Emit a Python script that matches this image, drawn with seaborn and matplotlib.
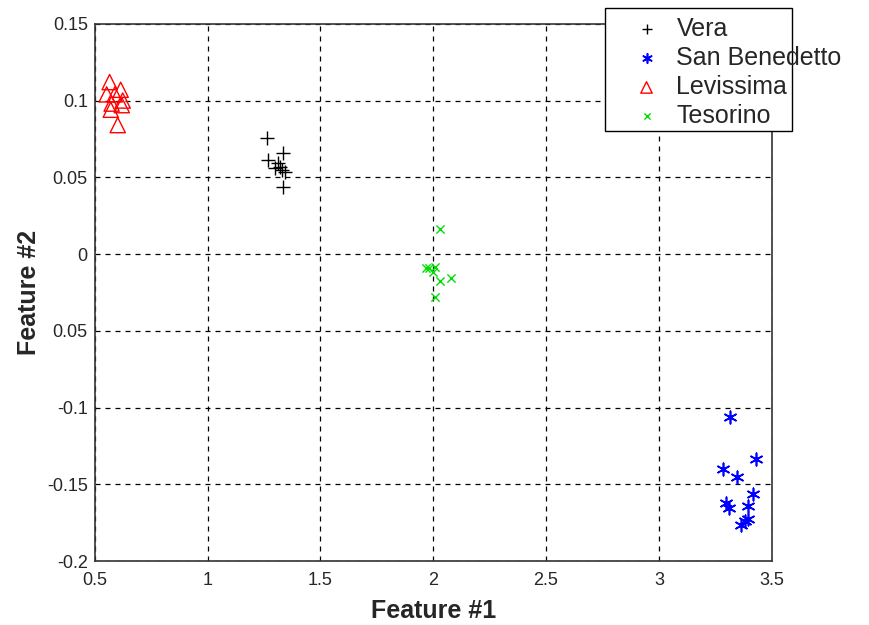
import seaborn as sns
import matplotlib.pyplot as plt
import matplotlib.patches as mpatches
import pandas as pd

sns.set_style('white')
plt.rcParams['font.family'] = ['Liberation Sans', 'DejaVu Sans']

# cluster points
vera_x = [1.262, 1.333, 1.267, 1.320, 1.329, 1.342, 1.311, 1.333, 1.298]
vera_y = [0.0757, 0.0659, 0.0613, 0.0568, 0.0548, 0.0535, 0.0594, 0.0437, 0.0561]

sanb_x = [3.314, 3.429, 3.283, 3.345, 3.416, 3.296, 3.309, 3.393, 3.393, 3.362, 3.380]
sanb_y = [-0.106, -0.1336, -0.140, -0.145, -0.156, -0.162, -0.1655, -0.164, -0.1727, -0.1766, -0.174]

levi_x = [0.566, 0.615, 0.553, 0.589, 0.624, 0.575, 0.620, 0.571, 0.602]
levi_y = [0.112, 0.107, 0.104, 0.104, 0.100, 0.098, 0.097, 0.094, 0.084]

teso_x = [2.029, 1.967, 1.980, 2.007, 1.998, 2.029, 2.078, 2.007]
teso_y = [0.0164, -0.009, -0.009, -0.0084, -0.0117, -0.0175, -0.0156, -0.028]

xticks = [0.5, 1, 1.5, 2, 2.5, 3, 3.5]
xticklabels = ['0.5', '1', '1.5', '2', '2.5', '3', '3.5']
yticks = [0.15, 0.1, 0.05, 0, -0.05, -0.1, -0.15, -0.2]
yticklabels = ['0.15', '0.1', '0.05', '0', '0.05', '-0.1', '-0.15', '-0.2']

fig = plt.figure(figsize=(8.69, 6.25), dpi=100)
ax = fig.add_axes([0.109, 0.102, 0.779, 0.860])

groups = [
    ('Vera', vera_x, vera_y, dict(marker='+', color='black', s=110, linewidths=1.0)),
    ('San Benedetto', sanb_x, sanb_y, dict(marker=(6, 2, 0), color='blue', s=80, linewidths=1.2)),
    ('Levissima', levi_x, levi_y, dict(marker='^', facecolors='none', edgecolor='red', s=120, linewidth=1.0)),
    ('Tesorino', teso_x, teso_y, dict(marker='x', color='#00dd00', s=35, linewidths=1.0)),
]
for name, xs, ys, kw in groups:
    df = pd.DataFrame({'x': xs, 'y': ys})
    sns.scatterplot(data=df, x='x', y='y', ax=ax, label=name, zorder=3, **kw)
# small dots in the centre of the asterisks
sns.scatterplot(x=sanb_x, y=sanb_y, ax=ax, marker='o', color='blue', s=12,
                linewidth=0, zorder=3, legend=False)

ax.set_xlim(0.5, 3.5)
ax.set_ylim(-0.2, 0.15)
ax.set_xticks(xticks)
ax.set_xticklabels(xticklabels)
ax.set_yticks(yticks)
ax.set_yticklabels(yticklabels)
ax.tick_params(direction='in', labelsize=13, length=5)
ax.tick_params(axis='x', pad=8)
ax.tick_params(axis='y', pad=5)
ax.grid(True, linestyle=(0, (4, 4)), color='black', linewidth=0.9)
ax.set_axisbelow(True)
for sp in ax.spines.values():
    sp.set_color('#333333')
    sp.set_linewidth(1.2)

ax.set_xlabel('Feature #1', fontsize=18, fontweight='bold', labelpad=7)
ax.set_ylabel('Feature #2', fontsize=18, fontweight='bold', labelpad=4)

# legend box (text runs past its right edge, as in the original)
box = mpatches.Rectangle((605 / 869, 1 - 131 / 625), 187 / 869, 123 / 625,
                         transform=fig.transFigure, facecolor='white',
                         edgecolor='black', linewidth=1.0, zorder=10, clip_on=False)
ax.add_patch(box)
leg = ax.legend(loc='upper left', bbox_to_anchor=(634 / 869, 1 - 17 / 625),
                bbox_transform=fig.transFigure, fontsize=18, frameon=False,
                borderpad=0, labelspacing=0.2, handlelength=1.0,
                handletextpad=0.7, markerscale=0.75, borderaxespad=0)
leg.set_zorder(11)

plt.savefig('out.png', dpi=100)
